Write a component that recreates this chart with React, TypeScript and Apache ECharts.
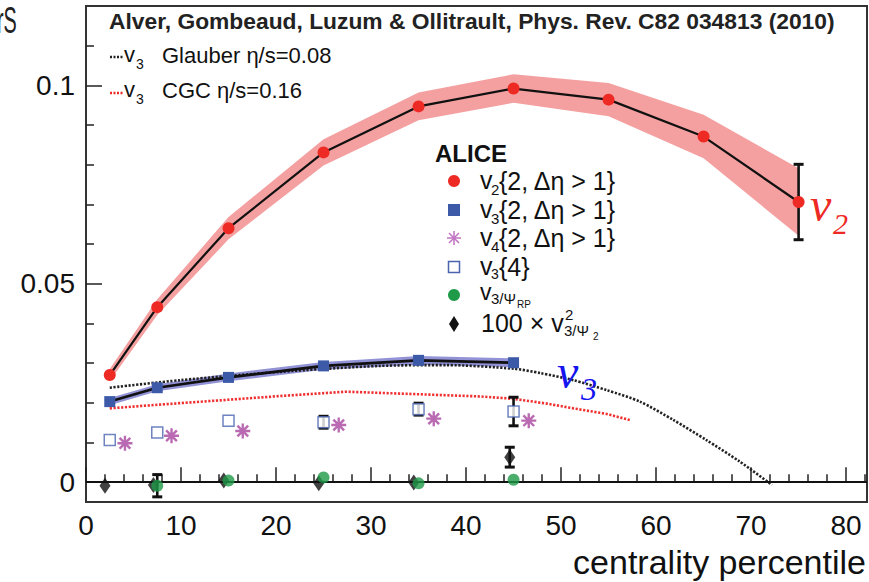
import React, { useEffect, useRef } from 'react';
import * as echarts from 'echarts';

// ---------- data ----------
const v2Cent = [2.5, 7.5, 15, 25, 35, 45, 55, 65, 75];
const v2Vals = [0.027, 0.0441, 0.064, 0.0831, 0.0947, 0.0992, 0.0964, 0.0871, 0.0706];
const v2BandHalf = [0.0015, 0.002, 0.0028, 0.0033, 0.0035, 0.0036, 0.0042, 0.0055, 0.0085];
const v2Err = [0, 0, 0, 0, 0, 0, 0, 0, 0.0095];

const v3Cent = [2.5, 7.5, 15, 25, 35, 45];
const v3Vals = [0.0203, 0.0238, 0.0264, 0.0293, 0.0307, 0.0301];
const v3BandHalf = [0.0009, 0.0009, 0.001, 0.001, 0.0011, 0.0011];

const v4Cent = [4.1, 9.0, 16.5, 26.6, 36.6, 46.6];
const v4Vals = [0.0098, 0.0117, 0.0129, 0.0144, 0.016, 0.0155];

const v34Cent = [2.5, 7.5, 15, 25, 35, 45];
const v34Vals = [0.0106, 0.0125, 0.0155, 0.0151, 0.0184, 0.0178];
const v34Err = [0, 0, 0, 0.0015, 0.0015, 0.0036];

const rpCent = [7.5, 15, 25, 35, 45];
const rpVals = [-0.0009, 0.0004, 0.0012, -0.0003, 0.0006];
const rpErr = [0.0028, 0, 0, 0, 0];

const psiCent = [2.0, 7.1, 14.5, 24.5, 34.5, 44.6];
const psiVals = [-0.0009, -0.0007, 0.0004, -0.0003, -0.0001, 0.0063];
const psiErr = [0, 0, 0, 0, 0, 0.0025];

const glauberX = [2.5, 9.9, 20.4, 30.9, 38, 45, 47.8, 51.3, 54.8, 58.3, 61.8, 65.3, 68.8, 72.2];
const glauberY = [0.0238, 0.0257, 0.0278, 0.0293, 0.0295, 0.0286, 0.0275, 0.0257, 0.0232, 0.0203, 0.0157, 0.0106, 0.0052, -0.0007];

const cgcX = [2.5, 7.5, 13.4, 20.4, 27.4, 34.5, 41.5, 45, 48.5, 51.3, 54.8, 57.3];
const cgcY = [0.0186, 0.0195, 0.0205, 0.0217, 0.0228, 0.0222, 0.0216, 0.021, 0.0198, 0.0186, 0.0172, 0.0156];

const xMajor = [0, 10, 20, 30, 40, 50, 60, 70, 80];
const xMinor = [2, 4, 6, 8, 12, 14, 16, 18, 22, 24, 26, 28, 32, 34, 36, 38, 42, 44, 46, 48, 52, 54, 56, 58, 62, 64, 66, 68, 72, 74, 76, 78, 82];
const yMajor = [0, 0.05, 0.1];
const yMinor = [0.01, 0.02, 0.03, 0.04, 0.06, 0.07, 0.08, 0.09, 0.11];

const X_MIN = 0;
const X_MAX = 82.2;
const Y_MIN = -0.005;
const Y_MAX = 0.12;

// ---------- style ----------
const FONT = '"Liberation Sans", Arial, Helvetica, sans-serif';
const SERIF = '"Liberation Serif", "Times New Roman", serif';
const RED = '#ee2a24';
const BLUE = '#3c5aa8';
const GREEN = '#1f9a48';
const MAGENTA = '#a8459f';
const INK = '#111';

const ASTERISK =
  'path://M-7,-1.1L7,-1.1L7,1.1L-7,1.1ZM-1.1,-7L1.1,-7L1.1,7L-1.1,7ZM-4.2,-5.8L5.8,4.2L4.2,5.8L-5.8,-4.2ZM-5.8,4.2L4.2,-5.8L5.8,-4.2L-4.2,5.8ZM-2.6,-2.6L2.6,-2.6L2.6,2.6L-2.6,2.6Z';

const pairs = (xs: number[], ys: number[]) => xs.map((x, i) => [x, ys[i]]);

const bandSeries = (xs: number[], ys: number[], half: number[], color: string, z: number) => ({
  type: 'custom',
  z,
  silent: true,
  data: xs.map((x, i) => [x, ys[i] - half[i], ys[i] + half[i]]),
  encode: { x: 0, y: [1, 2] },
  renderItem: (params: any, api: any) => {
    if (params.dataIndex !== 0) return { type: 'group', children: [] };
    const upper = xs.map((x, i) => api.coord([x, ys[i] + half[i]]));
    const lower = xs.map((x, i) => api.coord([x, ys[i] - half[i]])).reverse();
    return { type: 'polygon', shape: { points: upper.concat(lower) }, style: { fill: color } };
  },
});

const errorSeries = (xs: number[], ys: number[], errs: number[], z: number) => ({
  type: 'custom',
  z,
  silent: true,
  data: xs.map((x, i) => [x, ys[i] - errs[i], ys[i] + errs[i], errs[i]]).filter((d) => d[3] > 0),
  encode: { x: 0, y: [1, 2] },
  renderItem: (_params: any, api: any) => {
    const lo = api.coord([api.value(0), api.value(1)]);
    const hi = api.coord([api.value(0), api.value(2)]);
    const w = 5;
    return {
      type: 'group',
      children: [
        { type: 'line', shape: { x1: lo[0], y1: lo[1], x2: hi[0], y2: hi[1] }, style: { stroke: INK, lineWidth: 2.6 } },
        { type: 'line', shape: { x1: lo[0] - w, y1: lo[1], x2: lo[0] + w, y2: lo[1] }, style: { stroke: INK, lineWidth: 3 } },
        { type: 'line', shape: { x1: hi[0] - w, y1: hi[1], x2: hi[0] + w, y2: hi[1] }, style: { stroke: INK, lineWidth: 3 } },
      ],
    };
  },
});

const txt = (text: string, x: number, y: number, size: number, extra: any = {}) => ({
  type: 'text',
  x,
  y,
  silent: true,
  z: 50,
  style: {
    text,
    fill: INK,
    fontSize: size,
    fontFamily: FONT,
    align: 'left',
    verticalAlign: 'middle',
    ...extra,
  },
});

function buildOption() {
  const legX = 454;
  const rows = [181, 210, 238, 267, 295, 324];
  const tx = 480;
  const item = 25;
  const sub = 15;

  const graphic: any[] = [
    // partial cropped text top-left
    { ...txt('rS', -3, 21, 36, { fill: '#222' }), scaleX: 0.55 },
    // title
    txt('Alver, Gombeaud, Luzum & Ollitrault, Phys. Rev. C82 034813 (2010)', 109, 21, 22.8, { fontWeight: 'bold', fill: '#222' }),
    // model legend
    { type: 'line', silent: true, z: 50, shape: { x1: 110, y1: 57, x2: 123, y2: 57 }, style: { stroke: '#222', lineWidth: 2.5, lineDash: [2, 1.5] } },
    txt('v', 124, 54, 22),
    txt('3', 136, 64, 14),
    txt('Glauber η/s=0.08', 162, 55, 22),
    { type: 'line', silent: true, z: 50, shape: { x1: 110, y1: 93, x2: 123, y2: 93 }, style: { stroke: RED, lineWidth: 2.5, lineDash: [2, 1.5] } },
    txt('v', 124, 89, 22),
    txt('3', 136, 99, 14),
    txt('CGC η/s=0.16', 162, 90, 22),
    // ALICE legend
    txt('ALICE', 435, 153, 24, { fontWeight: 'bold' }),
    { type: 'circle', silent: true, z: 50, shape: { cx: legX, cy: rows[0], r: 6 }, style: { fill: RED } },
    txt('v', tx, rows[0] - 1, item),
    txt('2', tx + 11, rows[0] + 8, sub),
    txt('{2, Δη > 1}', tx + 19, rows[0], item),
    { type: 'rect', silent: true, z: 50, shape: { x: legX - 6, y: rows[1] - 6, width: 12, height: 12 }, style: { fill: BLUE } },
    txt('v', tx, rows[1] - 1, item),
    txt('3', tx + 11, rows[1] + 8, sub),
    txt('{2, Δη > 1}', tx + 19, rows[1], item),
    { type: 'line', silent: true, z: 50, shape: { x1: legX - 7, y1: rows[2], x2: legX + 7, y2: rows[2] }, style: { stroke: '#c070c0', lineWidth: 1.5 } },
    { type: 'line', silent: true, z: 50, shape: { x1: legX, y1: rows[2] - 7, x2: legX, y2: rows[2] + 7 }, style: { stroke: '#c070c0', lineWidth: 1.5 } },
    { type: 'line', silent: true, z: 50, shape: { x1: legX - 5, y1: rows[2] - 5, x2: legX + 5, y2: rows[2] + 5 }, style: { stroke: '#c070c0', lineWidth: 1.5 } },
    { type: 'line', silent: true, z: 50, shape: { x1: legX - 5, y1: rows[2] + 5, x2: legX + 5, y2: rows[2] - 5 }, style: { stroke: '#c070c0', lineWidth: 1.5 } },
    txt('v', tx, rows[2] - 1, item),
    txt('4', tx + 11, rows[2] + 8, sub),
    txt('{2, Δη > 1}', tx + 19, rows[2], item),
    { type: 'rect', silent: true, z: 50, shape: { x: legX - 5.5, y: rows[3] - 5.5, width: 11, height: 11 }, style: { fill: '#fff', stroke: '#4a64b0', lineWidth: 1.5 } },
    txt('v', tx, rows[3] - 1, item),
    txt('3', tx + 11, rows[3] + 7, 14),
    txt('{4}', tx + 19, rows[3], item),
    { type: 'circle', silent: true, z: 50, shape: { cx: legX, cy: rows[4], r: 6 }, style: { fill: GREEN } },
    txt('v', tx, rows[4] - 3, 23),
    txt('3/Ψ', tx + 11, rows[4] + 3, sub),
    txt('RP', tx + 37, rows[4] + 9, 10),
    { type: 'polygon', silent: true, z: 50, shape: { points: [[legX, rows[5] - 8], [legX + 5, rows[5]], [legX, rows[5] + 8], [legX - 5, rows[5]]] }, style: { fill: INK } },
    txt('100 × v', tx + 1, rows[5] - 1, item),
    txt('2', tx + 85, rows[5] - 10, sub),
    txt('3/Ψ', tx + 84, rows[5] + 6, sub),
    txt('2', tx + 113, rows[5] + 12, 10),
    // curve labels
    txt('v', 810, 204, 48, { fill: RED, fontFamily: SERIF, fontStyle: 'italic' }),
    txt('2', 833, 223, 30, { fill: RED, fontFamily: SERIF, fontStyle: 'italic' }),
    txt('v', 557, 371, 48, { fill: '#1414ee', fontFamily: SERIF, fontStyle: 'italic' }),
    txt('3', 581, 389, 32, { fill: '#1414ee', fontFamily: SERIF, fontStyle: 'italic' }),
    // axis title
    txt('centrality percentile', 866, 562, 34, { align: 'right' }),
  ];

  return {
    animation: false,
    backgroundColor: '#fff',
    grid: { left: 86, right: 2, top: 6, bottom: 80, show: true, borderColor: '#333', borderWidth: 2, backgroundColor: 'transparent' },
    xAxis: [
      {
        type: 'value',
        min: X_MIN,
        max: X_MAX,
        position: 'bottom',
        axisLine: { show: false },
        axisTick: { show: true, inside: true, length: 15, customValues: xMajor, lineStyle: { color: '#222', width: 1.5 } },
        axisLabel: { customValues: xMajor, fontSize: 28, color: INK, fontFamily: FONT, margin: 9 },
        splitLine: { show: false },
      },
      {
        type: 'value',
        min: X_MIN,
        max: X_MAX,
        position: 'bottom',
        axisLine: { show: false },
        axisTick: { show: true, inside: true, length: 8, customValues: xMinor, lineStyle: { color: '#222', width: 1.5 } },
        axisLabel: { show: false },
        splitLine: { show: false },
      },
    ],
    yAxis: [
      {
        type: 'value',
        min: Y_MIN,
        max: Y_MAX,
        position: 'left',
        axisLine: { show: false },
        axisTick: { show: true, inside: true, length: 16, customValues: yMajor, lineStyle: { color: '#222', width: 1.5 } },
        axisLabel: { customValues: yMajor, fontSize: 28, color: INK, fontFamily: FONT, margin: 11, formatter: (v: number) => (v === 0 ? '0' : String(v)) },
        splitLine: { show: false },
      },
      {
        type: 'value',
        min: Y_MIN,
        max: Y_MAX,
        position: 'left',
        axisLine: { show: false },
        axisTick: { show: true, inside: true, length: 8, customValues: yMinor, lineStyle: { color: '#222', width: 1.5 } },
        axisLabel: { show: false },
        splitLine: { show: false },
      },
    ],
    series: [
      bandSeries(v2Cent, v2Vals, v2BandHalf, '#f4a0a0', 1),
      bandSeries(v3Cent, v3Vals, v3BandHalf, '#9292d6', 1),
      {
        type: 'line',
        name: 'Glauber',
        z: 3,
        data: pairs(glauberX, glauberY),
        symbol: 'none',
        smooth: 0.25,
        lineStyle: { color: '#222', width: 2.6, type: [2.2, 1.6] },
        markLine: {
          silent: true,
          symbol: 'none',
          label: { show: false },
          lineStyle: { color: INK, width: 2, type: 'solid' },
          data: [{ yAxis: 0 }],
        },
      },
      {
        type: 'line',
        name: 'CGC',
        z: 3,
        data: pairs(cgcX, cgcY),
        symbol: 'none',
        lineStyle: { color: '#f03030', width: 2.6, type: [2.2, 1.6] },
      },
      errorSeries(v2Cent, v2Vals, v2Err, 4),
      errorSeries(v34Cent, v34Vals, v34Err, 4),
      errorSeries(rpCent, rpVals, rpErr, 4),
      errorSeries(psiCent, psiVals, psiErr, 4),
      {
        type: 'line',
        name: 'v2',
        z: 6,
        data: pairs(v2Cent, v2Vals),
        symbol: 'circle',
        symbolSize: 12,
        itemStyle: { color: RED },
        lineStyle: { color: INK, width: 2.2 },
      },
      {
        type: 'line',
        name: 'v3',
        z: 6,
        data: pairs(v3Cent, v3Vals),
        symbol: 'rect',
        symbolSize: 11,
        itemStyle: { color: BLUE },
        lineStyle: { color: INK, width: 2.6 },
      },
      {
        type: 'scatter',
        name: 'v4',
        z: 6,
        data: pairs(v4Cent, v4Vals),
        symbol: ASTERISK,
        symbolSize: 15,
        itemStyle: { color: MAGENTA },
      },
      {
        type: 'scatter',
        name: 'v3{4}',
        z: 6,
        data: pairs(v34Cent, v34Vals),
        symbol: 'rect',
        symbolSize: 11,
        itemStyle: { color: '#fff', borderColor: '#4a64b0', borderWidth: 1.5 },
      },
      {
        type: 'scatter',
        name: 'psi2',
        z: 6,
        data: pairs(psiCent, psiVals),
        symbol: 'diamond',
        symbolSize: [11, 16],
        itemStyle: { color: INK },
      },
      {
        type: 'scatter',
        name: 'RP',
        z: 7,
        data: pairs(rpCent, rpVals),
        symbol: 'circle',
        symbolSize: 12,
        itemStyle: { color: GREEN },
      },
    ],
    graphic,
  };
}

export default function App() {
  const ref = useRef<HTMLDivElement>(null);
  useEffect(() => {
    if (!ref.current) return;
    const chart = echarts.init(ref.current, null, { renderer: 'svg' });
    chart.setOption(buildOption() as any);
    return () => chart.dispose();
  }, []);
  return (
    <div
      ref={ref}
      style={{ position: 'fixed', left: 0, top: 0, width: 869, height: 582, background: '#fff' }}
    />
  );
}
